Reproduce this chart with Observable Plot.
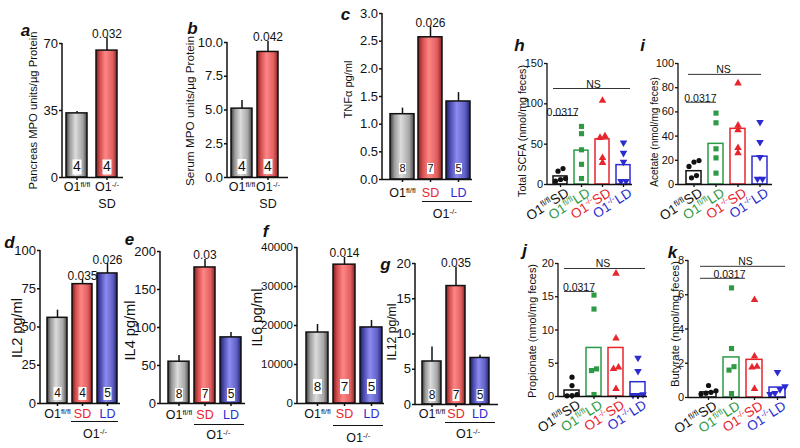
<!DOCTYPE html>
<html>
<head>
<meta charset="utf-8">
<script src="https://cdn.jsdelivr.net/npm/d3@7"></script>
<script src="https://cdn.jsdelivr.net/npm/@observablehq/plot@0.6"></script>
<style>
html,body{margin:0;padding:0;background:#fff;}
#fig{position:relative;width:800px;height:448px;overflow:hidden;background:#fff;}
#fig > svg{position:absolute;left:0;top:0;pointer-events:none;}
</style>
</head>
<body>
<svg width="0" height="0" style="position:absolute;left:0;top:0" aria-hidden="true">
<defs>
<linearGradient id="gGray" x1="0" x2="1" y1="0" y2="0">
<stop offset="0" stop-color="#3a3a3a"/><stop offset="0.18" stop-color="#9a9a9a"/><stop offset="0.45" stop-color="#dcdcdc"/><stop offset="0.8" stop-color="#a6a6a6"/><stop offset="1" stop-color="#474747"/>
</linearGradient>
<linearGradient id="gRed" x1="0" x2="1" y1="0" y2="0">
<stop offset="0" stop-color="#7a1c1c"/><stop offset="0.18" stop-color="#d24c4c"/><stop offset="0.45" stop-color="#ff8686"/><stop offset="0.8" stop-color="#e05e5e"/><stop offset="1" stop-color="#842424"/>
</linearGradient>
<linearGradient id="gBlue" x1="0" x2="1" y1="0" y2="0">
<stop offset="0" stop-color="#1c1c66"/><stop offset="0.18" stop-color="#4c4cb0"/><stop offset="0.45" stop-color="#8c8cf0"/><stop offset="0.8" stop-color="#5e5ec4"/><stop offset="1" stop-color="#22226c"/>
</linearGradient>
</defs>
</svg>
<div id="fig"></div>
<script>
// ---------------- data ----------------
const abCats = ["O1{fl/fl}", "O1{-/-}"];
const abDiet = ["", "SD"];
const aMean = [33.5, 66.3];
const aErr = [1.0, 6.7];
const aN = [4, 4];
const aP = ["", "0.032"];
const bMean = [5.1, 9.3];
const bErr = [0.6, 0.8];
const bN = [4, 4];
const bP = ["", "0.042"];

const cgCats = ["O1{fl/fl}", "SD", "LD"];
const cgGroup = "O1{-/-}";
const cMean = [1.18, 2.57, 1.41];
const cErr = [0.11, 0.19, 0.16];
const cN = [8, 7, 5];
const cP = ["", "0.026", ""];
const dMean = [56, 78, 85];
const dErr = [5, 3, 6.5];
const dN = [4, 4, 5];
const dP = ["", "0.035", "0.026"];
const eMean = [55, 179, 87];
const eErr = [8, 10.5, 6.4];
const eN = [8, 7, 5];
const eP = ["", "0.03", ""];
const fMean = [18200, 35600, 19500];
const fErr = [2050, 1850, 1800];
const fN = [8, 7, 5];
const fP = ["", "0.014", ""];
const gMean = [6.1, 16.8, 6.6];
const gErr = [2.05, 2.7, 0.4];
const gN = [8, 7, 5];
const gP = ["", "0.035", ""];

const scfaCats = ["O1{fl/fl}SD", "O1{fl/fl}LD", "O1{-/-}SD", "O1{-/-}LD"];
const hBar = [10, 42, 56, 24];
const hPoints = [[19.8, 16.5, 7.4, 6.2, 4.1], [72, 63, 43, 25, 7.4], [104, 60, 58, 33, 27], [52, 39, 28, 4, 4]];
const iBar = [11, 33.6, 46, 23];
const iPoints = [[19.8, 18.5, 14.9, 7.4, 5.5], [59, 51, 29.5, 22, 9.4], [83.7, 48.8, 45, 30.3, 25.9], [51.5, 35, 22.6, 4.7, 4.7]];
const jBar = [0.9, 7.3, 7.3, 2.15];
const jPoints = [[2.9, 1.65, 0.3, 0.15, 0.1], [15.25, 13.15, 4.15, 3.9, 0.3], [18.5, 8.75, 4.4, 4.15, 1.15], [5.8, 3.8, 0.3, 0.2, 0.2]];
const kBar = [0.3, 2.34, 2.2, 0.58];
const kPoints = [[0.7, 0.39, 0.3, 0.25, 0.2], [6.4, 2.86, 1.8, 1.6, 0.23], [5.7, 2.4, 1.8, 1.76, 0.5], [1.48, 0.64, 0.48, 0.25, 0.2]];
const nsLevel = {h: 119, i: 91, j: 19.25, k: 7.66};
const sigLevel = {h: 85.5, i: 68, j: 15.8, k: 6.96};
const sigLabel = "0.0317";
const nsLabel = "NS";

// ---------------- styles ----------------
const FONT = "'Liberation Sans', Arial, Helvetica, sans-serif";
const INK = "#111";
const RED = "#e8242c", BLUE = "#2b2bd2", GREEN = "#2e9a45";
const fills2 = ["url(#gGray)", "url(#gRed)"];
const fills3 = ["url(#gGray)", "url(#gRed)", "url(#gBlue)"];
const scfaColors = [INK, GREEN, RED, BLUE];
const SVGNS = "http://www.w3.org/2000/svg";

function boxSymbol(w, h) { return {draw(ctx) { ctx.rect(-w / 2, -h / 2, w, h); }}; }
const triDown = {draw(ctx, size) {
  const y = -Math.sqrt(size / (Math.sqrt(3) * 3));
  ctx.moveTo(0, -y * 2); ctx.lineTo(-Math.sqrt(3) * y, y); ctx.lineTo(Math.sqrt(3) * y, y); ctx.closePath();
}};
const scfaSymbols = ["circle", "square", "triangle", triDown];
const scfaR = [2.6, 2.9, 2.8, 2.8];

function axisLine(max, w) {
  return (index, scales, values, dims) => {
    const y = scales.y || (scales.scales && scales.scales.y);
    const ln = document.createElementNS(SVGNS, "line");
    ln.setAttribute("x1", dims.marginLeft); ln.setAttribute("x2", dims.marginLeft);
    ln.setAttribute("y1", y(0)); ln.setAttribute("y2", y(max));
    ln.setAttribute("stroke", INK); ln.setAttribute("stroke-width", w);
    return ln;
  };
}

function applySuperscripts(svg) {
  for (const t of svg.querySelectorAll("text")) {
    const s = t.textContent;
    if (!s.includes("{")) continue;
    t.textContent = "";
    for (const part of s.split(/(\{[^}]*\})/)) {
      if (!part) continue;
      const ts = document.createElementNS(SVGNS, "tspan");
      if (part[0] === "{") {
        ts.textContent = part.slice(1, -1);
        ts.setAttribute("font-size", "62%");
        ts.setAttribute("baseline-shift", "super");
      } else ts.textContent = part;
      t.appendChild(ts);
    }
  }
}

// scale a text so that its run length matches the length measured on the reference
function fitText(svg, str, targetLen) {
  for (const t of svg.querySelectorAll("text")) {
    if (t.textContent !== str) continue;
    const len = t.getComputedTextLength();
    const fs = parseFloat(getComputedStyle(t).fontSize);
    if (len > 0 && fs > 0) t.setAttribute("font-size", (fs * targetLen / len).toFixed(2));
  }
}

function basePlot(c, xopt, marks, fontSize) {
  const [L, R, T, B] = c.frame;
  const svg = Plot.plot({
    width: 800, height: 448,
    marginLeft: L, marginRight: 800 - R, marginTop: T, marginBottom: 448 - B,
    x: Object.assign({type: "band", paddingOuter: 0, axis: null}, xopt),
    y: {domain: [0, c.max]},
    color: {type: "identity"},
    style: {background: "none", overflow: "visible", fontFamily: FONT, fontSize: fontSize + "px", color: INK},
    marks
  });
  applySuperscripts(svg);
  document.getElementById("fig").appendChild(svg);
  fitText(svg, c.title, c.titleLen);
}

function common(c, tickSize, lineW) {
  const [L, R, T, B] = c.frame;
  return [
    Plot.ruleY([0], {stroke: INK, strokeWidth: lineW}),
    axisLine(c.max, lineW),
    Plot.axisY({ticks: c.ticks, tickFormat: c.fmt, tickSize: 3, tickPadding: 1.5, strokeWidth: lineW, fontSize: tickSize, label: null}),
    Plot.text([c.title], {frameAnchor: "left", text: d => d, rotate: -90, textAnchor: "middle", lineAnchor: "middle",
      dx: c.titleX - L, dy: c.titleDy, fontSize: 12}),
    Plot.text([c.letter], {frameAnchor: "top-left", text: d => d, textAnchor: "middle", lineAnchor: "middle",
      dx: c.letterPos[0] - L, dy: c.letterPos[1] - T, fontSize: 17, fontWeight: "bold", fontStyle: "italic"})
  ];
}

function barPanel(c) {
  const rows = c.cats.map((cat, i) => ({cat, lab: c.labels[i], col: c.labelColors[i], mean: c.mean[i], err: c.err[i],
    n: String(c.n[i]), p: c.p[i], fill: c.fills[i], diet: c.diet ? c.diet[i] : ""}));
  const n = c.cats.length;
  const step = (c.bars[1] - c.bars[0]) / (n - c.pad);
  const marks = [
    Plot.barY(rows, {x: "cat", y: "mean", fill: "fill", stroke: INK, strokeWidth: 1.5}),
    Plot.ruleX(rows, {x: "cat", y1: "mean", y2: d => d.mean + d.err, stroke: INK, strokeWidth: 1.5}),
    Plot.dot(rows, {x: "cat", y: 0, r: 1, symbol: boxSymbol(c.numBox[0], c.numBox[1]), fill: "white", stroke: "none", dy: c.numDy}),
    Plot.text(rows, {x: "cat", y: 0, text: "n", dy: c.numDy, fontSize: c.numFont}),
    Plot.text(rows.filter(d => d.p), {x: "cat", y: d => d.mean + d.err, text: "p", lineAnchor: "bottom", dy: 0, fontSize: 12}),
    Plot.ruleX(rows, {x: "cat", y1: 0, y2: 0, insetBottom: -3, stroke: INK, strokeWidth: 1.5}),
    Plot.text(rows, {x: "cat", y: 0, text: "lab", fill: "col", dy: c.labDy[0], fontSize: 12.5}),
    ...common(c, c.tickFont, 1.5)
  ];
  if (c.diet) {
    marks.push(Plot.text(rows.filter(d => d.diet), {x: "cat", y: 0, text: "diet", dy: c.labDy[1], fontSize: 12.5}));
  } else {
    marks.push(
      Plot.ruleY([0], {x1: () => c.cats[1], x2: () => c.cats[2], dy: c.labDy[1], stroke: INK, strokeWidth: 1.2, insetLeft: c.ulInset[0], insetRight: c.ulInset[1]}),
      Plot.text([c.group], {x: () => c.cats[1], y: 0, text: d => d, dx: step / 2, dy: c.labDy[2], fontSize: 12.5})
    );
  }
  basePlot(c, {domain: c.cats, range: c.bars, paddingInner: c.pad}, marks, 12);
}

function dodgeOffsets(vals, tol, gap) {
  const idx = vals.map((v, i) => i).sort((a, b) => vals[a] - vals[b]);
  const dx = vals.map(() => 0);
  let cluster = [idx[0]];
  const flush = () => { const m = cluster.length; cluster.forEach((k, j) => dx[k] = (j - (m - 1) / 2) * gap); };
  for (let t = 1; t < idx.length; t++) {
    if (vals[idx[t]] - vals[idx[t - 1]] < tol) cluster.push(idx[t]);
    else { flush(); cluster = [idx[t]]; }
  }
  flush();
  return dx;
}

function scfaPanel(c) {
  const [L, R, T, B] = c.frame;
  const cats = scfaCats;
  const rows = cats.map((cat, i) => ({cat, lab: cat, col: scfaColors[i], bar: c.bar[i]}));
  const step = (c.bars[1] - c.bars[0]) / (cats.length - c.pad);
  const bw = step * (1 - c.pad);
  const tol = c.max * 4.5 / (B - T);
  const dotMarks = [];
  c.points.forEach((vals, gi) => {
    const dx = dodgeOffsets(vals, tol, 5);
    const pts = vals.map((v, k) => ({cat: cats[gi], v, dx: dx[k]}));
    for (const [off, sub] of d3.group(pts, d => d.dx)) {
      dotMarks.push(Plot.dot(sub, {x: "cat", y: "v", dx: off, r: scfaR[gi], symbol: scfaSymbols[gi], fill: scfaColors[gi], stroke: "none"}));
    }
  });
  const marks = [
    Plot.barY(rows, {x: "cat", y: "bar", stroke: "col", fill: "none", strokeWidth: 1.5}),
    ...dotMarks,
    Plot.ruleX(rows, {x: "cat", y1: 0, y2: 0, insetBottom: -3, stroke: INK, strokeWidth: 1.3}),
    Plot.text(rows, {x: "cat", y: 0, text: "lab", fill: "col", rotate: -33, textAnchor: "end", dx: 7, dy: 7, fontSize: 13.5}),
    Plot.ruleY([c.ns], {x1: () => cats[0], x2: () => cats[3], stroke: "#333", strokeWidth: 1, insetLeft: c.nsInset[0], insetRight: c.nsInset[1]}),
    Plot.text([nsLabel], {y: () => c.ns, frameAnchor: "middle", text: d => d, textAnchor: "middle", dx: c.nsDx, lineAnchor: "bottom", dy: -1, fontSize: 10.5}),
    Plot.ruleY([c.sig], {x1: () => cats[0], x2: () => cats[1], stroke: "#333", strokeWidth: 1, insetRight: c.sigInset}),
    Plot.text([sigLabel], {x: () => cats[1], y: () => c.sig, text: d => d, textAnchor: "end", dx: bw / 2 - c.sigInset, lineAnchor: "bottom", dy: 0, fontSize: 10.5}),
    ...common(c, 11, 1.3)
  ];
  basePlot(c, {domain: cats, range: c.bars, paddingInner: c.pad}, marks, 11);
}

// ---------------- panels (layout) ----------------
const lab3Colors = [INK, RED, BLUE];
barPanel({letter: "a", cats: abCats, labels: abCats, labelColors: [INK, INK], diet: abDiet, fills: fills2,
  mean: aMean, err: aErr, n: aN, p: aP, max: 70, ticks: [0, 35, 70], fmt: d3.format("d"), tickFont: 13,
  title: "Pancreas MPO units/µg Protein", titleLen: 158, frame: [62, 123, 43, 177], bars: [66, 117], pad: 0.3,
  letterPos: [25, 30], titleX: 33, titleDy: 0, numBox: [9, 15], numDy: -10.5, numFont: 14, labDy: [9, 26]});
barPanel({letter: "b", cats: abCats, labels: abCats, labelColors: [INK, INK], diet: abDiet, fills: fills2,
  mean: bMean, err: bErr, n: bN, p: bP, max: 10, ticks: [0, 2.5, 5, 7.5, 10], fmt: d3.format(".1f"), tickFont: 13,
  title: "Serum MPO units/µg Protein", titleLen: 150, frame: [227, 288, 42, 177], bars: [231, 279], pad: 0.19,
  letterPos: [192, 28], titleX: 190, titleDy: 1, numBox: [9, 15], numDy: -11, numFont: 14, labDy: [9, 26]});
barPanel({letter: "c", cats: cgCats, labels: cgCats, labelColors: lab3Colors, group: cgGroup, fills: fills3,
  mean: cMean, err: cErr, n: cN, p: cP, max: 3, ticks: [0, 0.5, 1, 1.5, 2, 2.5, 3], fmt: d3.format(".1f"), tickFont: 13,
  title: "TNFα pg/ml", titleLen: 58, frame: [382, 472, 13, 179], bars: [389, 470], pad: 0.16,
  letterPos: [345, 14], titleX: 348, titleDy: -7, numBox: [7, 11], numDy: -11, numFont: 11, labDy: [13, 22, 34], ulInset: [4, -2]});
barPanel({letter: "d", cats: cgCats, labels: cgCats, labelColors: lab3Colors, group: cgGroup, fills: fills3,
  mean: dMean, err: dErr, n: dN, p: dP, max: 100, ticks: [0, 25, 50, 75, 100], fmt: d3.format("d"), tickFont: 13,
  title: "IL2 pg/ml", titleLen: 60, frame: [40, 120, 250, 403], bars: [47, 117], pad: 0.2,
  letterPos: [9, 242], titleX: 17, titleDy: 1, numBox: [8, 13], numDy: -10, numFont: 12, labDy: [10, 18, 30], ulInset: [-1, -1]});
barPanel({letter: "e", cats: cgCats, labels: cgCats, labelColors: lab3Colors, group: cgGroup, fills: fills3,
  mean: eMean, err: eErr, n: eN, p: eP, max: 200, ticks: [0, 50, 100, 150, 200], fmt: d3.format("d"), tickFont: 13,
  title: "IL4 pg/ml", titleLen: 60, frame: [160, 245, 251, 403], bars: [167, 241], pad: 0.21,
  letterPos: [129, 239], titleX: 130, titleDy: 3, numBox: [8, 13], numDy: -9, numFont: 12, labDy: [11, 21, 31], ulInset: [0, -3]});
barPanel({letter: "f", cats: cgCats, labels: cgCats, labelColors: lab3Colors, group: cgGroup, fills: fills3,
  mean: fMean, err: fErr, n: fN, p: fP, max: 40000, ticks: [0, 10000, 20000, 30000, 40000], fmt: d3.format("d"), tickFont: 11.5,
  title: "IL6 pg/ml", titleLen: 58, frame: [297, 384, 247, 403], bars: [305, 382], pad: 0.2,
  letterPos: [265, 231], titleX: 257, titleDy: -8, numBox: [9, 15], numDy: -17, numFont: 13.5, labDy: [10, 22, 34], ulInset: [0, -1]});
barPanel({letter: "g", cats: cgCats, labels: cgCats, labelColors: lab3Colors, group: cgGroup, fills: fills3,
  mean: gMean, err: gErr, n: gN, p: gP, max: 20, ticks: [0, 5, 10, 15, 20], fmt: d3.format("d"), tickFont: 13,
  title: "IL12 pg/ml", titleLen: 57, frame: [415, 498, 263, 404], bars: [422, 489], pad: 0.21,
  letterPos: [385, 264], titleX: 392, titleDy: -2, numBox: [7, 12], numDy: -9.5, numFont: 12, labDy: [9, 18, 29], ulInset: [-1, -6]});

scfaPanel({letter: "h", bar: hBar, points: hPoints, max: 150, ticks: [0, 50, 100, 150], fmt: d3.format("d"),
  title: "Total SCFA (nmol/mg feces)", titleLen: 132, frame: [547, 632, 63, 184], bars: [552, 631], pad: 0.33,
  letterPos: [519, 45], titleX: 522, titleDy: 7, ns: nsLevel.h, sig: sigLevel.h, nsDx: 3.5, nsInset: [0, 0], sigInset: 10});
scfaPanel({letter: "i", bar: iBar, points: iPoints, max: 100, ticks: [0, 20, 40, 60, 80, 100], fmt: d3.format("d"),
  title: "Acetate (nmol/mg feces)", titleLen: 110, frame: [678, 772, 63, 184], bars: [685, 767], pad: 0.33,
  letterPos: [642, 45], titleX: 654, titleDy: 8, ns: nsLevel.i, sig: sigLevel.i, nsDx: -2, nsInset: [2, 6], sigInset: 7});
scfaPanel({letter: "j", bar: jBar, points: jPoints, max: 20, ticks: [0, 5, 10, 15, 20], fmt: d3.format("d"),
  title: "Propionate (nmol/mg feces)", titleLen: 134, frame: [558, 647, 263, 396], bars: [562, 647], pad: 0.3,
  letterPos: [524, 250], titleX: 532, titleDy: 1, ns: nsLevel.j, sig: sigLevel.j, nsDx: 0, nsInset: [0, 0], sigInset: 7});
scfaPanel({letter: "k", bar: kBar, points: kPoints, max: 8, ticks: [0, 2, 4, 6, 8], fmt: d3.format("d"),
  title: "Butyrate (nmol/mg feces)", titleLen: 126, frame: [688, 786, 260, 397], bars: [699, 785], pad: 0.31,
  letterPos: [672, 252], titleX: 675, titleDy: -5, ns: nsLevel.k, sig: sigLevel.k, nsDx: 8, nsInset: [0, 0], sigInset: -6});
</script>
</body>
</html>
